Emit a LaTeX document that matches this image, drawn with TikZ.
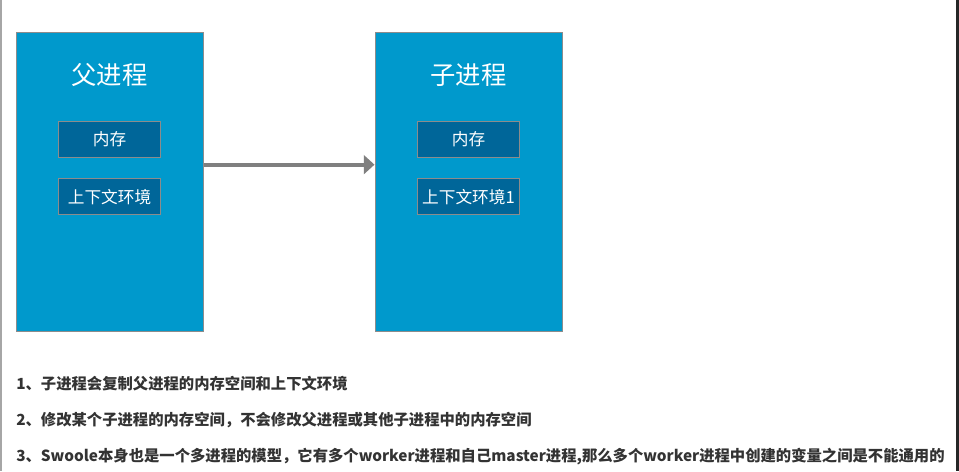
\documentclass[tikz,border=0pt]{standalone}
\usepackage{fontspec}
\setmainfont{Noto Sans CJK SC}
\usepackage{tikz}
\usetikzlibrary{positioning,arrows.meta}
\definecolor{procblue}{HTML}{0099CC}
\definecolor{memblue}{HTML}{006699}
\definecolor{boxline}{HTML}{8C8C8C}
\definecolor{arrowgray}{HTML}{7F7F7F}
\definecolor{notetext}{HTML}{333333}

\begin{document}
\begin{tikzpicture}[
  x=0.75pt, y=-0.75pt,
  node distance=15pt,
  proc/.style={draw=boxline, line width=0.75pt, fill=procblue, minimum width=140.25pt,
               minimum height=224.25pt, inner sep=0pt},
  ttl/.style={font=\fontsize{19}{22}\selectfont, text=white},
  mem/.style={draw=boxline, line width=0.75pt, fill=memblue, minimum width=76.5pt,
              minimum height=27pt, inner sep=0pt, font=\fontsize{12.5}{15}\selectfont, text=white},
  note/.style={anchor=west, inner sep=0pt, font=\fontsize{11.5}{14}\selectfont\bfseries, text=notetext},
  >={Triangle[length=8pt, width=14pt]}
]
\useasboundingbox (0,0) rectangle (959,471);
\fill[white] (0,0) rectangle (959,471);
\fill[black!35] (0,0) rectangle (1.5,471);
\fill[black!85] (956,0) rectangle (959,471);

\node[proc] (par) at (109.5,182) {};
\node[ttl] (partitle) at ([yshift=-32pt]par.north) {父进程};
\node[mem] (parmem) at ([yshift=-48.75pt]partitle.center) {内存};
\node[mem, below=of parmem] (parctx) {上下文环境};

\node[proc] (chi) at (468.5,182) {};
\node[ttl] (chititle) at ([yshift=-32pt]chi.north) {子进程};
\node[mem] (chimem) at ([yshift=-48.75pt]chititle.center) {内存};
\node[mem, below=of chimem] (chictx) {上下文环境1};

\draw[->, draw=arrowgray, fill=arrowgray, line width=3.2pt] ([yshift=13pt]par.east) -- ([yshift=13pt]chi.west);

\node[note] (note1) at (16,384) {1、子进程会复制父进程的内存空间和上下文环境};
\node[note] (note2) at (16,420) {2、修改某个子进程的内存空间，不会修改父进程或其他子进程中的内存空间};
\node[note] (note3) at (16,457) {3、Swoole本身也是一个多进程的模型，它有多个worker进程和自己master进程,那么多个worker进程中创建的变量之间是不能通用的};
\end{tikzpicture}
\end{document}
